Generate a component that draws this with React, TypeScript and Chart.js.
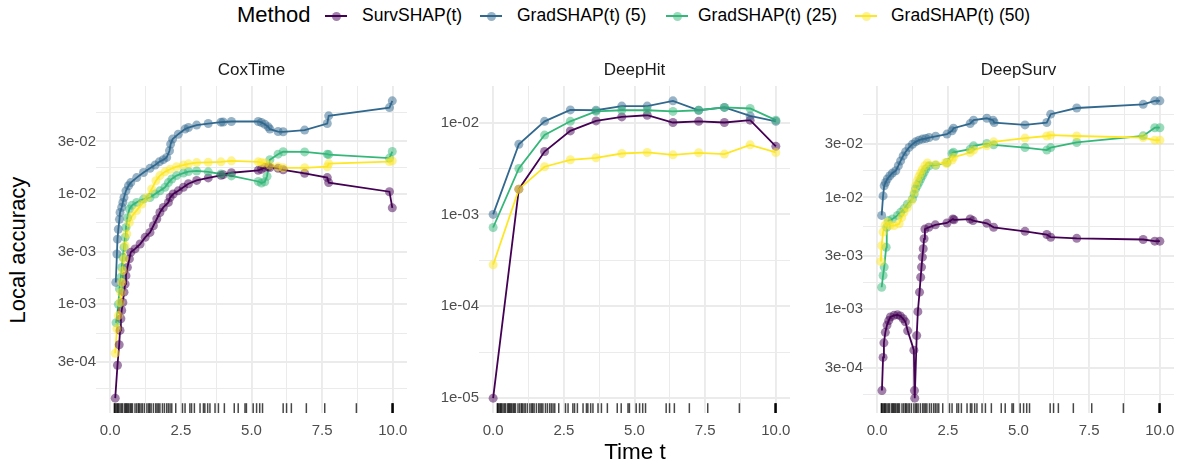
import React, { useEffect, useRef } from "react";
import { Chart, registerables } from "chart.js";

Chart.register(...registerables);

const FONT = '"Liberation Sans", Arial, Helvetica, sans-serif';

// ---------- legend / categories ----------
const methods = ["SurvSHAP(t)", "GradSHAP(t) (5)", "GradSHAP(t) (25)", "GradSHAP(t) (50)"];
const lineColors = ["#440154", "#31688E", "#35B779", "#FDE725"];
const pointColors = [
  "rgba(68,1,84,0.5)",
  "rgba(49,104,142,0.5)",
  "rgba(53,183,121,0.5)",
  "rgba(253,231,37,0.5)",
];
const panelNames = ["CoxTime", "DeepHit", "DeepSurv"];

// ---------- CoxTime: [time, local accuracy] ----------
const coxSurv = [
  [0.18, 1.41e-4], [0.26, 2.8e-4], [0.32, 4.3e-4], [0.35, 5.8e-4], [0.38, 7.4e-4], [0.41, 8.8e-4],
  [0.45, 1.04e-3], [0.49, 1.29e-3], [0.53, 1.53e-3], [0.56, 1.82e-3], [0.61, 2.16e-3], [0.68, 2.58e-3],
  [0.73, 2.96e-3], [0.88, 3.18e-3], [1.06, 3.52e-3], [1.24, 4.05e-3], [1.41, 4.49e-3], [1.53, 5.16e-3],
  [1.65, 5.94e-3], [1.76, 6.8e-3], [1.88, 7.56e-3], [2.06, 8.4e-3], [2.12, 9.3e-3], [2.23, 1.0e-2],
  [2.41, 1.07e-2], [2.59, 1.15e-2], [2.77, 1.24e-2], [3.06, 1.33e-2], [3.47, 1.4e-2], [3.92, 1.48e-2],
  [4.0, 1.5e-2], [4.29, 1.56e-2], [5.24, 1.64e-2], [5.35, 1.68e-2], [5.47, 1.74e-2], [5.59, 1.77e-2],
  [5.65, 1.74e-2], [5.94, 1.71e-2], [6.12, 1.66e-2], [6.88, 1.54e-2], [7.68, 1.41e-2], [7.73, 1.27e-2],
  [9.88, 1.05e-2], [9.98, 7.5e-3],
];
const coxG5 = [
  [0.2, 1.58e-3], [0.24, 2.86e-3], [0.26, 3.9e-3], [0.29, 4.8e-3], [0.33, 5.9e-3], [0.35, 6.8e-3],
  [0.41, 7.6e-3], [0.45, 8.4e-3], [0.49, 9.3e-3], [0.56, 1.07e-2], [0.65, 1.19e-2], [0.73, 1.27e-2],
  [0.94, 1.41e-2], [1.18, 1.57e-2], [1.41, 1.71e-2], [1.59, 1.83e-2], [1.74, 1.96e-2], [1.88, 2.05e-2],
  [2.0, 2.15e-2], [2.1, 2.47e-2], [2.14, 2.84e-2], [2.21, 3.15e-2], [2.41, 3.49e-2], [2.65, 3.88e-2],
  [2.77, 4.01e-2], [3.06, 4.22e-2], [3.47, 4.36e-2], [3.92, 4.49e-2], [4.0, 4.5e-2], [4.29, 4.55e-2],
  [5.24, 4.55e-2], [5.35, 4.46e-2], [5.47, 4.3e-2], [5.59, 4.07e-2], [5.65, 3.88e-2], [5.94, 3.69e-2],
  [6.12, 3.67e-2], [6.88, 3.8e-2], [7.68, 4.36e-2], [7.73, 5.12e-2], [9.88, 6.08e-2], [9.98, 7.0e-2],
];
const coxG25 = [
  [0.21, 6.8e-4], [0.29, 1.0e-3], [0.33, 1.38e-3], [0.38, 1.76e-3], [0.41, 2.16e-3], [0.45, 2.67e-3],
  [0.49, 3.28e-3], [0.53, 4.05e-3], [0.56, 4.98e-3], [0.61, 6.1e-3], [0.68, 7.3e-3], [0.77, 7.9e-3],
  [0.94, 8.4e-3], [1.18, 9.0e-3], [1.41, 9.3e-3], [1.59, 1.0e-2], [1.76, 1.07e-2], [1.94, 1.15e-2],
  [2.06, 1.27e-2], [2.18, 1.37e-2], [2.35, 1.47e-2], [2.59, 1.55e-2], [2.77, 1.6e-2], [3.06, 1.62e-2],
  [3.47, 1.59e-2], [3.92, 1.52e-2], [4.29, 1.46e-2], [5.24, 1.3e-2], [5.35, 1.26e-2], [5.47, 1.29e-2],
  [5.55, 1.45e-2], [5.65, 2.05e-2], [5.94, 2.3e-2], [6.12, 2.42e-2], [6.88, 2.41e-2], [7.68, 2.3e-2],
  [7.73, 2.28e-2], [9.88, 2.12e-2], [9.98, 2.43e-2],
];
const coxG50 = [
  [0.18, 3.6e-4], [0.24, 6.0e-4], [0.29, 7.9e-4], [0.35, 1.04e-3], [0.38, 1.28e-3], [0.41, 1.58e-3],
  [0.45, 2.02e-3], [0.49, 2.58e-3], [0.53, 3.4e-3], [0.59, 4.35e-3], [0.68, 5.5e-3], [0.77, 6.3e-3],
  [0.94, 7.1e-3], [1.12, 8.1e-3], [1.3, 9.3e-3], [1.47, 1.11e-2], [1.62, 1.32e-2], [1.76, 1.47e-2],
  [1.94, 1.59e-2], [2.12, 1.68e-2], [2.35, 1.77e-2], [2.59, 1.83e-2], [2.77, 1.88e-2], [3.06, 1.93e-2],
  [3.47, 1.94e-2], [3.92, 1.96e-2], [4.29, 2.0e-2], [5.24, 1.96e-2], [5.35, 1.93e-2], [5.47, 1.91e-2],
  [5.65, 1.83e-2], [5.94, 1.77e-2], [6.12, 1.73e-2], [6.88, 1.73e-2], [7.68, 1.77e-2], [7.73, 1.89e-2],
  [9.88, 1.97e-2], [9.98, 2.0e-2],
];

// ---------- DeepHit ----------
const hitSurv = [
  [0, 1.0e-5], [0.91, 1.88e-3], [1.82, 4.83e-3], [2.73, 8.1e-3], [3.64, 1.04e-2], [4.55, 1.15e-2],
  [5.45, 1.2e-2], [6.36, 1.0e-2], [7.27, 1.03e-2], [8.18, 1.0e-2], [9.09, 1.06e-2], [10, 5.5e-3],
];
const hitG5 = [
  [0, 1.0e-3], [0.91, 5.8e-3], [1.82, 1.03e-2], [2.73, 1.37e-2], [3.64, 1.36e-2], [4.55, 1.51e-2],
  [5.45, 1.51e-2], [6.36, 1.72e-2], [7.27, 1.36e-2], [8.18, 1.46e-2], [9.09, 1.18e-2], [10, 1.03e-2],
];
const hitG25 = [
  [0, 7.2e-4], [0.91, 3.16e-3], [1.82, 7.3e-3], [2.73, 1.03e-2], [3.64, 1.32e-2], [4.55, 1.36e-2],
  [5.45, 1.36e-2], [6.36, 1.32e-2], [7.27, 1.36e-2], [8.18, 1.46e-2], [9.09, 1.42e-2], [10, 1.06e-2],
];
const hitG50 = [
  [0, 2.83e-4], [0.91, 1.88e-3], [1.82, 3.3e-3], [2.73, 3.93e-3], [3.64, 4.13e-3], [4.55, 4.6e-3],
  [5.45, 4.72e-3], [6.36, 4.45e-3], [7.27, 4.68e-3], [8.18, 4.53e-3], [9.09, 5.71e-3], [10, 4.72e-3],
];

// ---------- DeepSurv ----------
const survSurv = [
  [0.17, 1.87e-4], [0.21, 3.7e-4], [0.24, 5.0e-4], [0.29, 6.2e-4], [0.35, 7.2e-4], [0.41, 7.9e-4],
  [0.47, 8.5e-4], [0.6, 8.8e-4], [0.72, 8.9e-4], [0.82, 8.7e-4], [0.92, 8.2e-4], [1.0, 7.7e-4],
  [1.08, 6.4e-4], [1.3, 4.3e-4], [1.32, 1.87e-4], [1.33, 1.6e-4], [1.4, 5.8e-4], [1.44, 9.5e-4],
  [1.5, 1.42e-3], [1.54, 1.93e-3], [1.57, 2.38e-3], [1.6, 2.92e-3], [1.63, 3.47e-3], [1.66, 4.26e-3],
  [1.69, 5.2e-3], [1.83, 5.4e-3], [2.06, 5.68e-3], [2.47, 5.9e-3], [2.68, 6.4e-3], [2.72, 6.3e-3],
  [3.29, 6.4e-3], [3.39, 6.2e-3], [3.88, 5.86e-3], [4.12, 5.4e-3], [5.23, 4.97e-3], [6.0, 4.65e-3],
  [6.14, 4.4e-3], [7.06, 4.3e-3], [9.41, 4.2e-3], [9.82, 4.06e-3], [10.0, 4.06e-3],
];
const survG5 = [
  [0.16, 6.9e-3], [0.21, 1.03e-2], [0.25, 1.27e-2], [0.3, 1.36e-2], [0.36, 1.46e-2], [0.45, 1.56e-2],
  [0.54, 1.65e-2], [0.66, 1.73e-2], [0.75, 1.92e-2], [0.83, 2.12e-2], [0.92, 2.35e-2], [1.01, 2.56e-2],
  [1.13, 2.8e-2], [1.25, 2.99e-2], [1.36, 3.14e-2], [1.48, 3.25e-2], [1.6, 3.32e-2], [1.72, 3.36e-2],
  [1.84, 3.43e-2], [2.07, 3.52e-2], [2.47, 3.68e-2], [2.65, 3.94e-2], [2.7, 4.16e-2], [3.29, 4.57e-2],
  [3.41, 4.9e-2], [3.88, 5.1e-2], [4.1, 4.9e-2], [4.14, 4.67e-2], [5.23, 4.45e-2], [6.0, 4.67e-2],
  [6.14, 5.55e-2], [7.06, 6.3e-2], [9.41, 6.8e-2], [9.82, 7.3e-2], [10.0, 7.3e-2],
];
const survG25 = [
  [0.16, 1.57e-3], [0.21, 2.0e-3], [0.25, 2.38e-3], [0.32, 3.58e-3], [0.34, 5.4e-3], [0.4, 6.2e-3],
  [0.54, 6.4e-3], [0.72, 6.9e-3], [0.83, 7.35e-3], [0.95, 7.9e-3], [1.07, 8.7e-3], [1.25, 9.7e-3],
  [1.31, 1.07e-2], [1.36, 1.19e-2], [1.42, 1.27e-2], [1.48, 1.36e-2], [1.54, 1.46e-2], [1.6, 1.56e-2],
  [1.66, 1.67e-2], [1.72, 1.79e-2], [1.84, 1.92e-2], [2.07, 1.94e-2], [2.47, 2.05e-2], [2.65, 2.47e-2],
  [2.7, 2.53e-2], [3.29, 2.7e-2], [3.41, 2.89e-2], [3.88, 3.03e-2], [4.12, 2.95e-2], [5.23, 2.79e-2],
  [6.0, 2.65e-2], [6.14, 2.79e-2], [7.06, 3.1e-2], [9.41, 3.55e-2], [9.82, 4.2e-2], [10.0, 4.2e-2],
];
const survG50 = [
  [0.13, 2.67e-3], [0.16, 3.7e-3], [0.21, 4.9e-3], [0.28, 5.6e-3], [0.36, 6.0e-3], [0.45, 5.6e-3],
  [0.6, 5.6e-3], [0.78, 5.8e-3], [0.87, 6.6e-3], [0.95, 7.35e-3], [1.07, 8.1e-3], [1.22, 9.35e-3],
  [1.31, 1.11e-2], [1.36, 1.27e-2], [1.42, 1.41e-2], [1.48, 1.54e-2], [1.54, 1.65e-2], [1.6, 1.77e-2],
  [1.69, 1.92e-2], [1.78, 2.03e-2], [2.07, 1.97e-2], [2.42, 2.05e-2], [2.47, 2.01e-2], [2.65, 2.16e-2],
  [2.7, 2.28e-2], [3.29, 2.52e-2], [3.41, 2.65e-2], [3.88, 2.89e-2], [4.12, 3.14e-2], [5.23, 3.39e-2],
  [6.0, 3.54e-2], [6.14, 3.6e-2], [7.06, 3.54e-2], [9.41, 3.43e-2], [9.82, 3.25e-2], [10.0, 3.25e-2],
];

// ---------- observed event times (rug) ----------
const rugTimes = [
  0.15, 0.16, 0.2, 0.24, 0.27, 0.3, 0.35, 0.4, 0.44, 0.51, 0.55, 0.58, 0.62, 0.66, 0.71, 0.75, 0.79,
  0.88, 0.94, 1.0, 1.03, 1.09, 1.14, 1.21, 1.3, 1.36, 1.4, 1.45, 1.53, 1.61, 1.66, 1.71, 1.76, 1.85,
  1.92, 2.0, 2.06, 2.12, 2.18, 2.32, 2.56, 2.65, 2.82, 2.88, 2.98, 3.18, 3.3, 3.35, 3.45, 3.53, 3.71,
  3.83, 4.04, 4.39, 4.53, 4.77, 4.82, 5.06, 5.18, 5.29, 5.39, 6.12, 6.24, 6.41, 6.94, 7.59, 8.71,
  9.96, 10, 10, 10,
];

// ---------- axis breaks ----------
const xBreaks = [-2.5, 0, 2.5, 5, 7.5, 10, 12.5];
const coxYBreaks = [1e-4, 3e-4, 1e-3, 3e-3, 1e-2, 3e-2, 1e-1];
const hitYBreaks = [1e-6, 1e-5, 1e-4, 1e-3, 1e-2, 1e-1];
const survYBreaks = [1e-4, 3e-4, 1e-3, 3e-3, 1e-2, 3e-2, 1e-1];

const panelSeries = [
  [coxSurv, coxG5, coxG25, coxG50],
  [hitSurv, hitG5, hitG25, hitG50],
  [survSurv, survG5, survG25, survG50],
];
const panelBreaks = [coxYBreaks, hitYBreaks, survYBreaks];

// ---------- layout ----------
const PANEL_LEFTS = [96, 479, 863];
const PANEL_W = 311;
const Y_AXIS_W = 60;
const RIGHT_PAD = 10;
const CANVAS_TOP = 55;
const CANVAS_H = 385;
const X_AXIS_H = 27;
const TOP_PAD = 31;

function sciLabel(v: number) {
  const e = Math.floor(Math.log10(v) + 1e-9);
  const m = Math.round(v / Math.pow(10, e));
  const sign = e < 0 ? "-" : "+";
  return `${m}e${sign}${String(Math.abs(e)).padStart(2, "0")}`;
}

function xLimits() {
  let lo = Infinity;
  let hi = -Infinity;
  panelSeries.forEach((ps) =>
    ps.forEach((s) =>
      s.forEach(([t]) => {
        lo = Math.min(lo, t);
        hi = Math.max(hi, t);
      })
    )
  );
  rugTimes.forEach((t) => {
    lo = Math.min(lo, t);
    hi = Math.max(hi, t);
  });
  const pad = 0.05 * (hi - lo);
  return [lo - pad, hi + pad];
}

function yLimits(series: number[][][]) {
  let lo = Infinity;
  let hi = -Infinity;
  series.forEach((s) =>
    s.forEach(([, v]) => {
      const l = Math.log10(v);
      lo = Math.min(lo, l);
      hi = Math.max(hi, l);
    })
  );
  const pad = 0.05 * (hi - lo);
  return [Math.pow(10, lo - pad), Math.pow(10, hi + pad)];
}

const rugPlugin = {
  id: "rug",
  afterDatasetsDraw(chart: any) {
    const { ctx, chartArea, scales } = chart;
    const len = 0.03 * (chartArea.bottom - chartArea.top);
    ctx.save();
    ctx.strokeStyle = "rgba(0,0,0,0.72)";
    ctx.lineWidth = 1.5;
    rugTimes.forEach((t) => {
      const x = scales.x.getPixelForValue(t);
      ctx.beginPath();
      ctx.moveTo(x, chartArea.bottom);
      ctx.lineTo(x, chartArea.bottom - len);
      ctx.stroke();
    });
    ctx.restore();
  },
};

const stripPlugin = {
  id: "strip",
  afterDraw(chart: any) {
    const { ctx, chartArea } = chart;
    const text = chart.options.plugins.strip?.text;
    if (!text) return;
    ctx.save();
    ctx.fillStyle = "#1A1A1A";
    ctx.font = `17px ${FONT}`;
    ctx.textAlign = "center";
    ctx.textBaseline = "middle";
    ctx.fillText(text, (chartArea.left + chartArea.right) / 2, chartArea.top - 16);
    ctx.restore();
  },
};

function Panel({ index }: { index: number }) {
  const ref = useRef<HTMLCanvasElement>(null);
  useEffect(() => {
    const series = panelSeries[index];
    const [xmin, xmax] = xLimits();
    const [ymin, ymax] = yLimits(series);

    const xMajors = xBreaks.filter((v) => v >= xmin && v <= xmax);
    const xMinorAll: number[] = [];
    for (let i = 0; i < xBreaks.length - 1; i++) xMinorAll.push((xBreaks[i] + xBreaks[i + 1]) / 2);
    const xMinors = xMinorAll.filter((v) => v >= xmin && v <= xmax);
    const xTicks = [...xMajors, ...xMinors].sort((a, b) => a - b);

    const yb = panelBreaks[index];
    const yMajors = yb.filter((v) => v >= ymin && v <= ymax);
    const yMinorAll: number[] = [];
    for (let i = 0; i < yb.length - 1; i++) yMinorAll.push(Math.sqrt(yb[i] * yb[i + 1]));
    const yMinors = yMinorAll.filter((v) => v >= ymin && v <= ymax);
    const yTicks = [...yMajors, ...yMinors].sort((a, b) => a - b);

    const isXMajor = (v: number) => xMajors.some((m) => Math.abs(m - v) < 1e-9);
    const isYMajor = (v: number) =>
      yMajors.some((m) => Math.abs(Math.log10(m) - Math.log10(v)) < 1e-6);

    const datasets: any[] = [];
    series.forEach((s, i) => {
      datasets.push({
        label: methods[i] + " line",
        data: s.map(([x, y]) => ({ x, y })),
        showLine: true,
        borderColor: lineColors[i],
        borderWidth: 1.8,
        pointRadius: 0,
        order: 20 - i,
      });
    });
    series.forEach((s, i) => {
      datasets.push({
        label: methods[i],
        data: s.map(([x, y]) => ({ x, y })),
        showLine: false,
        pointRadius: 4.5,
        pointBackgroundColor: pointColors[i],
        pointBorderWidth: 0,
        pointBorderColor: "rgba(0,0,0,0)",
        order: 10 - i,
      });
    });

    const tickFont = { family: FONT, size: 15 };
    const chart = new Chart(ref.current as HTMLCanvasElement, {
      type: "scatter",
      data: { datasets },
      options: {
        responsive: false,
        animation: false,
        events: [],
        layout: { padding: { left: 0, right: RIGHT_PAD, top: TOP_PAD, bottom: 0 } },
        plugins: {
          legend: { display: false },
          tooltip: { enabled: false },
          title: { display: false },
          strip: { text: panelNames[index] },
        },
        scales: {
          x: {
            type: "linear",
            min: xmin,
            max: xmax,
            afterBuildTicks: (scale: any) => {
              scale.ticks = xTicks.map((v) => ({ value: v }));
            },
            afterFit: (scale: any) => {
              scale.height = X_AXIS_H;
            },
            grid: {
              color: "#EBEBEB",
              lineWidth: (ctx: any) => (ctx.tick && isXMajor(ctx.tick.value) ? 1.9 : 1),
              drawTicks: false,
            },
            border: { display: false },
            ticks: {
              autoSkip: false,
              maxRotation: 0,
              padding: 9,
              color: "#4D4D4D",
              font: tickFont,
              callback: (v: any) => (isXMajor(Number(v)) ? Number(v).toFixed(1) : ""),
            },
          },
          y: {
            type: "logarithmic",
            min: ymin,
            max: ymax,
            afterBuildTicks: (scale: any) => {
              scale.ticks = yTicks.map((v) => ({ value: v }));
            },
            afterFit: (scale: any) => {
              scale.width = Y_AXIS_W;
            },
            grid: {
              color: "#EBEBEB",
              lineWidth: (ctx: any) => (ctx.tick && isYMajor(ctx.tick.value) ? 1.9 : 1),
              drawTicks: false,
            },
            border: { display: false },
            ticks: {
              autoSkip: false,
              padding: 0,
              color: "#4D4D4D",
              font: tickFont,
              callback: (v: any) => (isYMajor(Number(v)) ? sciLabel(Number(v)) : ""),
            },
          },
        },
      } as any,
      plugins: [rugPlugin, stripPlugin],
    });
    return () => chart.destroy();
  }, [index]);

  const w = Y_AXIS_W + PANEL_W + RIGHT_PAD;
  return (
    <canvas
      ref={ref}
      width={w}
      height={CANVAS_H}
      style={{
        position: "absolute",
        left: PANEL_LEFTS[index] - Y_AXIS_W,
        top: CANVAS_TOP,
        width: w,
        height: CANVAS_H,
      }}
    />
  );
}

const legendKeyCenters = [336, 491, 677, 866];
const legendTextLefts = [362, 517, 698, 891];

export default function App() {
  return (
    <div
      style={{
        position: "fixed",
        left: 0,
        top: 0,
        width: 1179,
        height: 467,
        background: "#ffffff",
        overflow: "hidden",
        fontFamily: FONT,
      }}
    >
      {/* legend */}
      <div
        style={{
          position: "absolute",
          left: 237,
          top: 15,
          transform: "translateY(-50%)",
          fontSize: 22,
          color: "#000",
          whiteSpace: "nowrap",
          lineHeight: 1,
        }}
      >
        Method
      </div>
      {methods.map((m, i) => (
        <React.Fragment key={m}>
          <div
            style={{
              position: "absolute",
              left: legendKeyCenters[i] - 11,
              top: 15,
              width: 22,
              height: 2,
              background: lineColors[i],
            }}
          />
          <div
            style={{
              position: "absolute",
              left: legendKeyCenters[i] - 4.5,
              top: 11.5,
              width: 9,
              height: 9,
              borderRadius: "50%",
              background: pointColors[i],
            }}
          />
          <div
            style={{
              position: "absolute",
              left: legendTextLefts[i],
              top: 16,
              transform: "translateY(-50%)",
              fontSize: 17.5,
              color: "#000",
              whiteSpace: "nowrap",
              lineHeight: 1,
            }}
          >
            {m}
          </div>
        </React.Fragment>
      ))}

      {panelNames.map((p, i) => (
        <Panel key={p} index={i} />
      ))}

      {/* axis titles */}
      <div
        style={{
          position: "absolute",
          left: 18,
          top: 250,
          transform: "translate(-50%, -50%) rotate(-90deg)",
          fontSize: 22,
          whiteSpace: "nowrap",
          lineHeight: 1,
          color: "#000",
        }}
      >
        Local accuracy
      </div>
      <div
        style={{
          position: "absolute",
          left: 635,
          top: 452,
          transform: "translate(-50%, -50%)",
          fontSize: 22.5,
          whiteSpace: "nowrap",
          lineHeight: 1,
          color: "#000",
        }}
      >
        Time t
      </div>
    </div>
  );
}
